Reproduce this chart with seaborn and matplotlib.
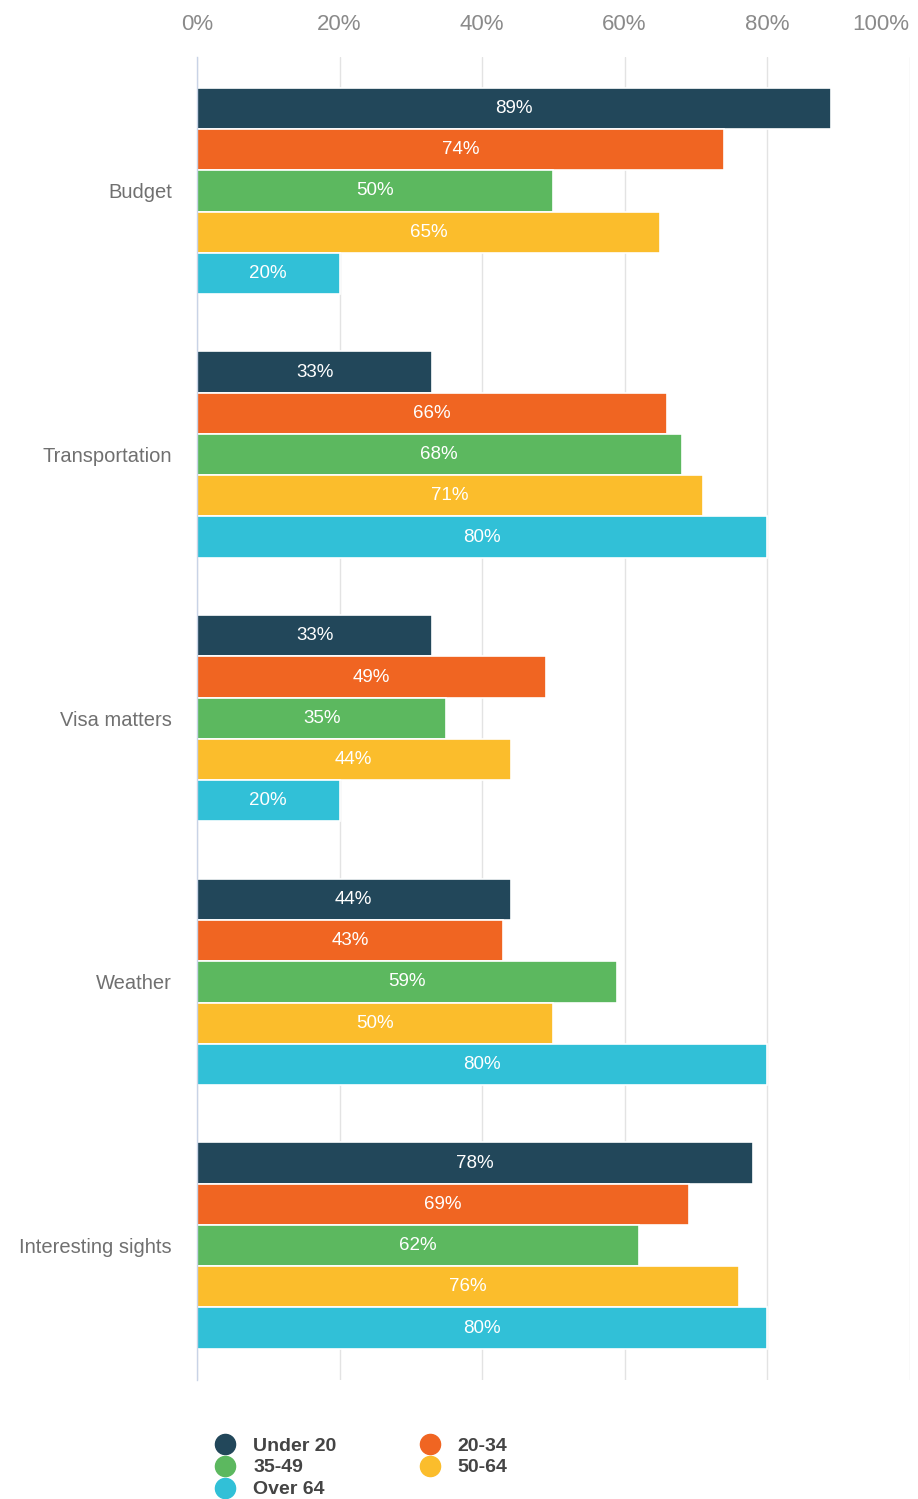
import matplotlib
matplotlib.use("Agg")
import matplotlib.pyplot as plt
from matplotlib.lines import Line2D
import seaborn as sns
import pandas as pd

# Survey results: share of respondents per age group citing each factor
factors = ["Budget", "Transportation", "Visa matters", "Weather", "Interesting sights"]
age_groups = ["Under 20", "20-34", "35-49", "50-64", "Over 64"]
under_20 = [89, 33, 33, 44, 78]
age_20_34 = [74, 66, 49, 43, 69]
age_35_49 = [50, 68, 35, 59, 62]
age_50_64 = [65, 71, 44, 50, 76]
over_64 = [20, 80, 20, 80, 80]
x_ticks = [0, 20, 40, 60, 80, 100]
colors = ["#22475a", "#f06522", "#5cb85f", "#fbbd2c", "#31c0d7"]

series = [under_20, age_20_34, age_35_49, age_50_64, over_64]
rows = []
for grp, vals in zip(age_groups, series):
    for f, v in zip(factors, vals):
        rows.append({"factor": f, "group": grp, "value": v})
df = pd.DataFrame(rows)

sns.set_theme(style="white")
plt.rcParams["font.family"] = ["Liberation Sans", "DejaVu Sans"]

fig = plt.figure(figsize=(9.18, 14.99), dpi=100)
ax = fig.add_axes([197 / 918, 1 - 1380 / 1499, (909.5 - 197) / 918, (1380 - 57) / 1499])

sns.barplot(data=df, y="factor", x="value", hue="group", order=factors,
            hue_order=age_groups, palette=colors, orient="h", width=0.782,
            edgecolor="white", linewidth=1.2, saturation=1, ax=ax, legend=False,
            errorbar=None)

for cont in ax.containers:
    ax.bar_label(cont, labels=[f"{int(v)}%" for v in cont.datavalues],
                 label_type="center", color="white", fontsize=13.5)

ax.set_xlim(0, 100)
ax.set_ylim(4.51, -0.508)
ax.set_xticks(x_ticks)
ax.set_xticklabels([f"{t}%" for t in x_ticks])
ax.xaxis.tick_top()
ax.tick_params(axis="x", length=0, pad=16, labelsize=16, labelcolor="#8a8a8a")
ax.tick_params(axis="y", length=0, pad=18, labelsize=14.5, labelcolor="#707070")
ax.get_xticklabels()[-1].set_horizontalalignment("right")
ax.set_xlabel("")
ax.set_ylabel("")
ax.grid(axis="x", color="#e3e3e3", linewidth=1)
ax.set_axisbelow(True)
for side in ["top", "right", "bottom"]:
    ax.spines[side].set_visible(False)
ax.spines["left"].set_color("#c9d3e6")
ax.spines["left"].set_linewidth(1)

# Legend laid out as two columns
order = [0, 2, 4, 1, 3]
handles = [Line2D([0], [0], marker="o", linestyle="", markersize=14.5,
                  markerfacecolor=colors[i], markeredgecolor=colors[i]) for i in order]
labels = [age_groups[i] for i in order]
fig.legend(handles, labels, loc="upper left", bbox_to_anchor=(198 / 918, 1 - 1419.5 / 1499),
           ncol=2, frameon=False, columnspacing=4.3, handletextpad=0.94,
           labelspacing=0.22, prop={"size": 14, "weight": "bold"},
           labelcolor="#444444", handlelength=1.0)

fig.savefig("out.png", dpi=100, facecolor="white")
